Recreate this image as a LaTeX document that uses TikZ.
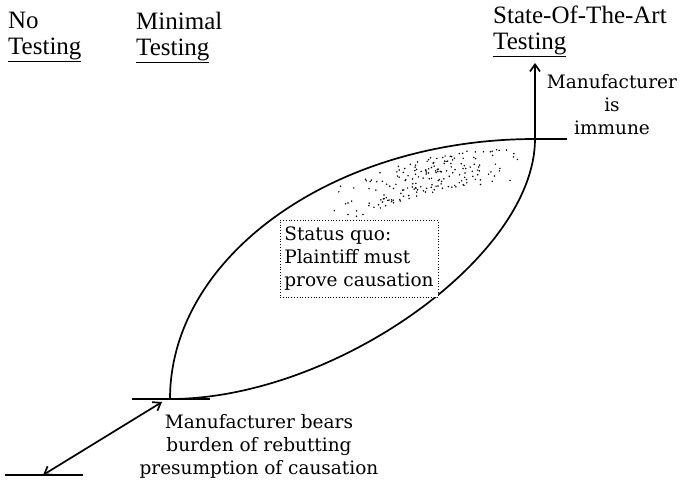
\documentclass[tikz,border=0pt]{standalone}
\usepackage{fontspec}
\setmainfont{Liberation Serif}
\newfontfamily\headfont{Liberation Serif}
\newfontfamily\labfont{DejaVu Serif}
\usetikzlibrary{arrows.meta}

\tikzset{
    heading/.style={font=\headfont\fontsize{25}{25.5}\selectfont, align=left, anchor=north west, inner sep=0pt},
    note/.style={font=\labfont\fontsize{18.5}{23}\selectfont, inner sep=0pt},
    curve/.style={line width=1.7pt},
    >={Straight Barb[length=7pt,width=10pt]}
}

\begin{document}
\begin{tikzpicture}[x=1pt, y=-1pt]
    \useasboundingbox (0, 0) rectangle (682, 482);
    % column headings
    \node[heading] (none) at (8, 12) {No\\\underline{Testing}};
    \node[heading] (minimal) at (136, 12) {Minimal\\\underline{Testing}};
    \node[heading] (art) at (493, 6) {State-Of-The-Art\\\underline{Testing}};
    % ends of the lens
    \coordinate (low) at (170, 399);
    \coordinate (top) at (535, 139);
    \coordinate (zero) at (43, 475);
    \coordinate (arttip) at (535, 63);
    \coordinate (lowtip) at (162, 402);
    % the lens
    \draw[curve] (low) .. controls (170, 256) and (334, 139) .. (top);
    \draw[curve] (low) .. controls (334, 399) and (535, 257) .. (top);
    % stipple near the upper edge
    \pgfmathsetseed{17}
    \foreach \k in {1,...,190} {
        \pgfmathsetmacro\dx{325 + 200*(rnd + rnd)/2}
        \pgfmathsetmacro\dtop{399 - 259*sqrt(1 - ((535 - \dx)/365)^2) + 6}
        \pgfmathsetmacro\dy{\dtop + rnd*38}
        \fill (\dx, \dy) circle (0.85pt);
    }
    % level marks
    \draw[curve] (5, 475) -- (83, 475);
    \draw[curve] (132, 399) -- (210, 399);
    \draw[curve] (top) -- (567, 139);
    % arrows
    \draw[curve, <->] (zero) -- (lowtip);
    \draw[curve, ->] (top) -- (arttip);
    % texts
    \node[note, align=center, anchor=north] (immune) at (612, 74)
        {Manufacturer\\is\\immune};
    \node[note, align=center, anchor=north] (burden) at (259, 414)
        {Manufacturer bears\\burden of rebutting\\presumption of causation};
    \node[note, align=left, draw, dotted, line width=0.8pt, fill=white,
        minimum width=158pt, minimum height=77pt] (quo) at (359, 258.5)
        {Status quo:\\Plaintiff must\\prove causation};
\end{tikzpicture}
\end{document}
